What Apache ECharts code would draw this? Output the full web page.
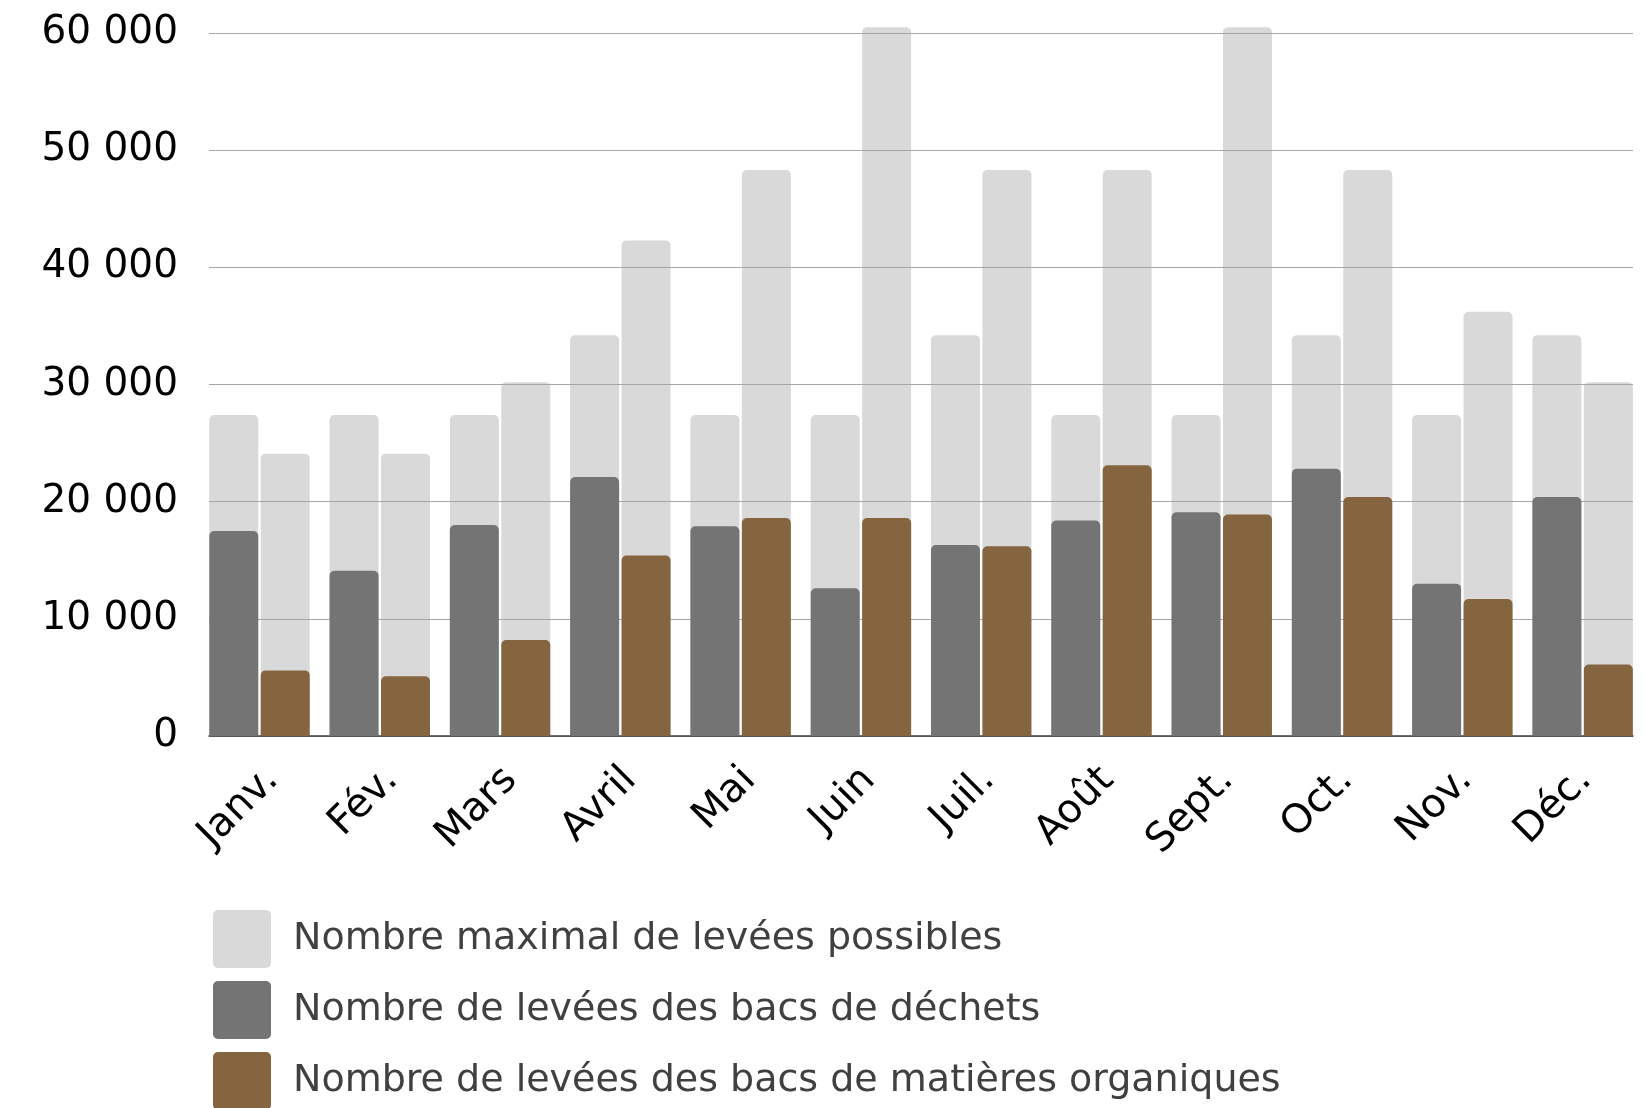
<!DOCTYPE html>
<html>
<head>
<meta charset="utf-8">
<script src="https://cdn.jsdelivr.net/npm/echarts@6/dist/echarts.min.js"></script>
<style>
html,body{margin:0;padding:0;background:#fff;}
#c{width:1645px;height:1108px;}
</style>
</head>
<body>
<div id="c"></div>
<script>
const months = ['Janv.', 'Fév.', 'Mars', 'Avril', 'Mai', 'Juin', 'Juil.', 'Août', 'Sept.', 'Oct.', 'Nov.', 'Déc.'];
const maxDechets = [27400, 27400, 27400, 34200, 27400, 27400, 34200, 27400, 27400, 34200, 27400, 34200];
const maxOrganiques = [24100, 24100, 30200, 42300, 48300, 60500, 48300, 48300, 60500, 48300, 36200, 30200];
const dechets = [17500, 14100, 18000, 22100, 17900, 12600, 16300, 18400, 19100, 22800, 13000, 20400];
const organiques = [5600, 5100, 8200, 15400, 18600, 18600, 16200, 23100, 18900, 20400, 11700, 6100];
const yTickValues = [0, 10000, 20000, 30000, 40000, 50000, 60000];
const yTickLabels = ['0', '10 000', '20 000', '30 000', '40 000', '50 000', '60 000'];
const seriesNames = [
  'Nombre maximal de levées possibles',
  'Nombre de levées des bacs de déchets',
  'Nombre de levées des bacs de matières organiques'
];

const FONT = 'DejaVu Sans';
const chart = echarts.init(document.getElementById('c'), null, {renderer: 'canvas'});
const TOP = 33, H = 703;
const legendIcon = 'path://M5,0H53A5,5,0,0,1,58,5V53A5,5,0,0,1,53,58H5A5,5,0,0,1,0,53V5A5,5,0,0,1,5,0Z';

chart.setOption({
  animation: false,
  backgroundColor: '#fff',
  textStyle: {fontFamily: FONT},
  grid: [
    {left: 199.35, width: 1443.4, top: TOP, height: H},
    {left: 209, width: 1424, top: TOP, height: H},
    {left: 212.5, width: 1443.4, top: TOP, height: H}
  ],
  xAxis: [
    {type: 'category', gridIndex: 0, data: months, show: false},
    {type: 'category', gridIndex: 0, data: months, show: false},
    {type: 'value', gridIndex: 1, min: 0, max: 1, z: 2,
      axisLine: {show: true, onZero: false, lineStyle: {color: '#404040', width: 1.5}},
      axisTick: {show: false}, axisLabel: {show: false}, splitLine: {show: false}},
    {type: 'category', gridIndex: 2, data: months,
      axisLine: {show: false}, axisTick: {show: false}, splitLine: {show: false},
      axisLabel: {interval: 0, rotate: 45, margin: 38, fontSize: 40, fontFamily: FONT, color: '#000'}}
  ],
  yAxis: [
    {type: 'value', gridIndex: 0, min: 0, max: 60000, show: false},
    {type: 'value', gridIndex: 1, min: 0, max: 60000, interval: 10000, z: 2,
      axisLine: {show: false}, axisTick: {show: false},
      splitLine: {show: true, lineStyle: {color: '#a6a6a6', width: 1}},
      axisLabel: {margin: 31, fontSize: 39, fontFamily: FONT, color: '#000', padding: [6, 0, 0, 0],
        formatter: v => yTickLabels[yTickValues.indexOf(v)]}},
    {type: 'value', gridIndex: 2, min: 0, max: 60000, show: false}
  ],
  legend: {
    orient: 'vertical', left: 213, top: 910, height: 260, padding: 0,
    itemWidth: 58, itemHeight: 58, itemGap: 13,
    icon: legendIcon,
    data: seriesNames,
    textStyle: {fontSize: 38, fontFamily: FONT, color: '#404040', padding: [0, 0, 0, 17]}
  },
  series: [
    {name: seriesNames[0], type: 'bar', xAxisIndex: 0, yAxisIndex: 0, data: maxDechets,
      barWidth: 49, barGap: '5%', z: 1, clip: false,
      itemStyle: {color: '#d9d9d9', borderRadius: [5, 5, 0, 0]}},
    {name: seriesNames[0], type: 'bar', xAxisIndex: 0, yAxisIndex: 0, data: maxOrganiques,
      barWidth: 49, barGap: '5%', z: 1, clip: false,
      itemStyle: {color: '#d9d9d9', borderRadius: [5, 5, 0, 0]}},
    {name: seriesNames[1], type: 'bar', xAxisIndex: 1, yAxisIndex: 0, data: dechets,
      barWidth: 49, barGap: '5%', z: 3,
      itemStyle: {color: '#747474', borderRadius: [5, 5, 0, 0]}},
    {name: seriesNames[2], type: 'bar', xAxisIndex: 1, yAxisIndex: 0, data: organiques,
      barWidth: 49, barGap: '5%', z: 3,
      itemStyle: {color: '#846540', borderRadius: [5, 5, 0, 0]}}
  ]
});
</script>
</body>
</html>
